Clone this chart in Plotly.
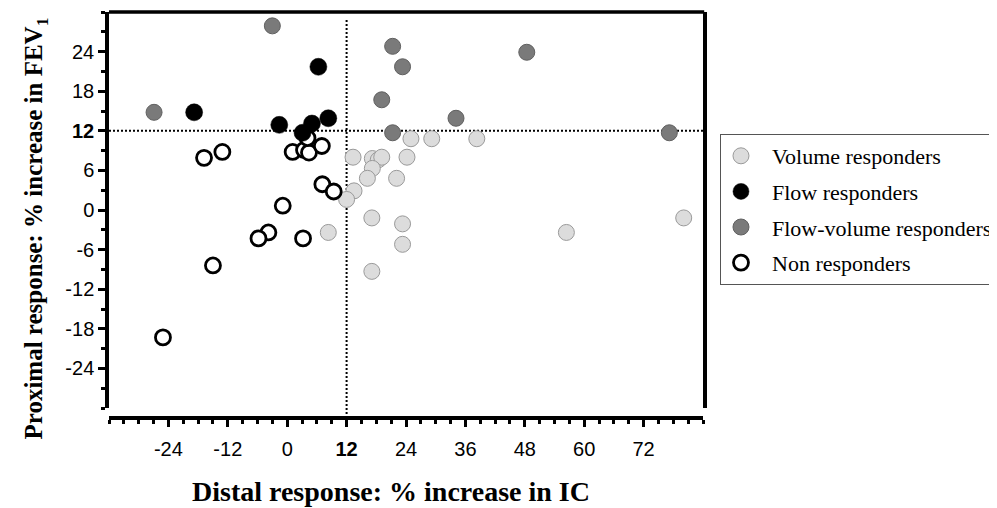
import plotly.graph_objects as go

# ---- data ----
vol_x = [25.0, 29.2, 38.3, 13.3, 17.2, 18.4, 19.1, 17.2, 24.2, 16.2, 22.1, 13.5, 12.0, 17.1, 23.3, 23.3, 17.1, 8.3, 56.4, 80.1]
vol_y = [10.8, 10.8, 10.8, 8.0, 7.8, 7.6, 8.0, 6.3, 8.0, 4.8, 4.8, 2.9, 1.6, -1.2, -2.1, -5.2, -9.3, -3.4, -3.4, -1.2]

flow_x = [6.3, -18.8, -1.6, 5.0, 8.3, 3.1]
flow_y = [21.7, 14.8, 12.9, 13.1, 13.9, 11.7]

fv_x = [-3.0, 21.3, 23.3, 19.1, -26.9, 21.3, 48.4, 34.1, 77.2]
fv_y = [27.9, 24.8, 21.7, 16.7, 14.8, 11.7, 23.9, 13.9, 11.7]

non_x = [-16.8, -13.1, 1.1, 3.4, 4.4, 4.1, 7.0, 7.1, 9.4, -0.9, -3.8, -5.8, 3.2, -15.0, -25.1]
non_y = [7.9, 8.8, 8.8, 9.1, 8.7, 10.9, 9.7, 3.9, 2.8, 0.65, -3.4, -4.3, -4.3, -8.4, -19.3]

threshold = 12
x_major = list(range(-36, 85, 12))
x_labels = ["", "-24", "-12", "0", "<b>12</b>", "24", "36", "48", "60", "72", ""]
y_major = list(range(-30, 31, 6))
y_labels = ["", "-24", "-18", "-12", "-6", "0", "6", "<b>12</b>", "18", "24", ""]

x_title = "<b>Distal response: % increase in IC</b>"
y_title = "<b>Proximal response: % increase in FEV<sub>1</sub></b>"

SERIF = "Liberation Serif"
SANS = "Liberation Sans"
SP = "&nbsp;&nbsp;"

fig = go.Figure()

fig.add_trace(go.Scatter(
    x=vol_x, y=vol_y, mode="markers", name=SP + "Volume responders",
    legendgroup="a", legendrank=1,
    marker=dict(size=16, color="#dcdcdc", line=dict(color="#9a9a9a", width=1))))
fig.add_trace(go.Scatter(
    x=non_x, y=non_y, mode="markers", name=SP + "Non responders",
    legendgroup="d", legendrank=4,
    marker=dict(size=15, color="white", line=dict(color="black", width=2.8))))
fig.add_trace(go.Scatter(
    x=flow_x, y=flow_y, mode="markers", name=SP + "Flow responders",
    legendgroup="b", legendrank=2,
    marker=dict(size=17, color="black", line=dict(color="black", width=0.5))))
fig.add_trace(go.Scatter(
    x=fv_x, y=fv_y, mode="markers", name=SP + "Flow-volume responders",
    legendgroup="c", legendrank=3,
    marker=dict(size=16, color="#7a7a7a", line=dict(color="#606060", width=1))))

# threshold lines
fig.add_shape(type="line", xref="x", yref="y", x0=-36, x1=84, y0=threshold, y1=threshold,
              line=dict(color="black", width=2, dash="2px,2px"), layer="below")
fig.add_shape(type="line", xref="x", yref="paper", x0=threshold, x1=threshold, y0=0, y1=0.98,
              line=dict(color="black", width=2, dash="2px,2px"), layer="below")
# top frame line
fig.add_shape(type="line", xref="paper", yref="paper", x0=0, x1=1.002, y0=1, y1=1,
              line=dict(color="black", width=3.5))

# axis titles
fig.add_annotation(text=x_title, xref="paper", yref="paper", x=0.4747, y=-0.181,
                   xanchor="center", yanchor="middle", showarrow=False,
                   font=dict(family=SERIF, size=28, color="black"))
fig.add_annotation(text=y_title, xref="paper", yref="paper", x=-0.1229, y=0.4667,
                   xanchor="center", yanchor="middle", showarrow=False, textangle=-90,
                   font=dict(family=SERIF, size=25, color="black"))

fig.update_layout(
    width=989, height=500,
    margin=dict(l=101, r=294, t=4, b=90, autoexpand=False),
    paper_bgcolor="white", plot_bgcolor="white",
    showlegend=True,
    legend=dict(x=1.0286, y=0.6995, xref="paper", yref="paper", xanchor="left", yanchor="top",
                font=dict(family=SERIF, size=22, color="black"),
                bordercolor="#555555", borderwidth=1, bgcolor="white",
                tracegroupgap=4, itemwidth=30),
    xaxis=dict(
        range=[-36, 84], anchor="free", position=0,
        tickmode="array", tickvals=x_major, ticktext=x_labels,
        ticks="outside", ticklen=7, tickwidth=3, tickcolor="black",
        minor=dict(tickmode="array", tickvals=list(range(-36, 85, 3)), ticks="outside",
                   ticklen=4, tickwidth=2.5, tickcolor="black"),
        showline=True, linewidth=3.5, linecolor="black",
        showgrid=False, zeroline=False, ticklabelstandoff=5,
        tickfont=dict(family=SANS, size=20, color="black"),
    ),
    yaxis=dict(
        range=[-30, 30], domain=[10 / 406, 1],
        tickmode="array", tickvals=y_major, ticktext=y_labels,
        ticks="outside", ticklen=7, tickwidth=3, tickcolor="black",
        minor=dict(tickmode="array", tickvals=list(range(-30, 31, 3)), ticks="outside",
                   ticklen=4, tickwidth=2.5, tickcolor="black"),
        showline=True, linewidth=3.5, linecolor="black", mirror=True,
        showgrid=False, zeroline=False,
        tickfont=dict(family=SANS, size=20, color="black"),
    ),
)

fig.write_html("out.html")
